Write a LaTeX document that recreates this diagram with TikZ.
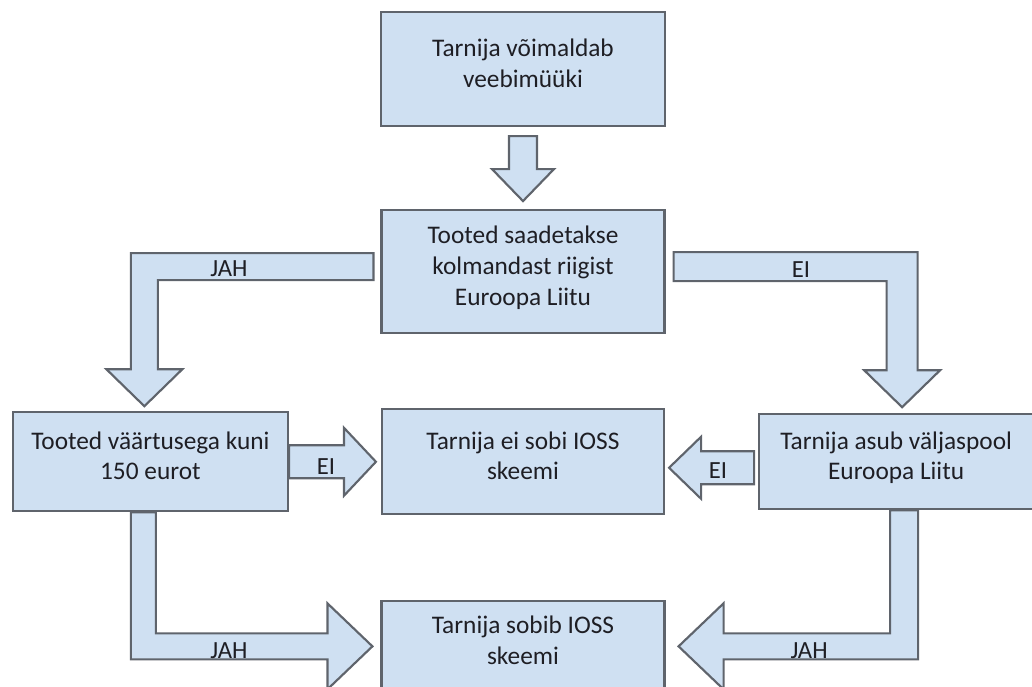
\documentclass[tikz,border=0pt]{standalone}
\usepackage{fontspec}
\setmainfont{Carlito}
\usetikzlibrary{positioning,calc}

\definecolor{boxfill}{RGB}{207,224,242}
\definecolor{boxline}{RGB}{95,100,108}
\definecolor{txt}{RGB}{30,30,36}

\begin{document}
\begin{tikzpicture}[x=0.75pt,y=-0.75pt,
  box/.style={draw=boxline,fill=boxfill,line width=1.6pt,align=center,text=txt,
    font=\fontsize{19pt}{23pt}\selectfont,inner sep=0pt,
    execute at end node={\rule[-9pt]{0pt}{0pt}}},
  barrow/.style={draw=boxline,fill=boxfill,line width=1.6pt},
  lbl/.style={text=txt,font=\fontsize{18.5pt}{22pt}\selectfont,anchor=base,inner sep=0pt}]

  \useasboundingbox (0,0) rectangle (1032,686);
  \clip (0,0) rectangle (1032,686);

  % boxes
  \node[box,minimum width=213pt,minimum height=85.5pt] (web) at (523,69) {Tarnija võimaldab\\veebimüüki};
  \node[box,minimum width=212.25pt,minimum height=92.25pt] (ship) [below=61.5pt of web] {Tooted saadetakse\\kolmandast riigist\\Euroopa Liitu};
  \node[box,minimum width=211.5pt,minimum height=78.75pt] (nofit) [below=55.5pt of ship] {Tarnija ei sobi IOSS\\skeemi};
  \node[box,minimum width=206.25pt,minimum height=74.25pt] (value) [left=69pt of nofit] {Tooted väärtusega kuni\\150 eurot};
  \node[box,minimum width=205.5pt,minimum height=71.25pt] (outside) [right=69.75pt of nofit] {Tarnija asub väljaspool\\Euroopa Liitu};
  \node[box,minimum width=212.25pt,minimum height=67.5pt] (fit) [below=63.75pt of nofit] {Tarnija sobib IOSS\\skeemi};

  % arrow ends
  \coordinate (downS) at ($(web.south)+(0,9)$);
  \coordinate (downT) at ($(ship.north)+(0,-8)$);
  \coordinate (jahAS) at ($(ship.north west)+(-7,44)$);
  \coordinate (jahAT) at ($(value.north)+(-6,-5)$);
  \coordinate (jahAC) at (jahAT |- jahAS);
  \coordinate (eiAS) at ($(ship.north east)+(8,43)$);
  \coordinate (eiAT) at ($(outside.north)+(6,-6)$);
  \coordinate (eiAC) at (eiAT |- eiAS);
  \coordinate (eiBS) at (value.east);
  \coordinate (eiBT) at ($(nofit.west)+(-5,0)$);
  \coordinate (eiCS) at ($(outside.west)+(-4,6)$);
  \coordinate (eiCT) at ($(nofit.east)+(4,6)$);
  \coordinate (jahBS) at ($(value.south)+(-19.5,0)$);
  \coordinate (jahBT) at ($(fit.north west)+(-8,46)$);
  \coordinate (jahBC) at (jahBS |- jahBT);
  \coordinate (jahCS) at ($(outside.south)+(22,0)$);
  \coordinate (jahCT) at ($(fit.north east)+(13,46)$);
  \coordinate (jahCC) at (jahCS |- jahCT);

  % block arrows
  \draw[barrow] ($(downS)+(-14,0)$) -- ($(downS)+(14,0)$) -- ($(downT)+(14,-32)$)
    -- ($(downT)+(31,-32)$) -- (downT) -- ($(downT)+(-31,-32)$) -- ($(downT)+(-14,-32)$) -- cycle;
  \draw[barrow] (jahAS) -- ($(jahAC)+(-13.5,0)$) -- ($(jahAT)+(-13.5,-37)$) -- ($(jahAT)+(-38,-37)$)
    -- (jahAT) -- ($(jahAT)+(38,-37)$) -- ($(jahAT)+(13.5,-37)$) -- ($(jahAC)+(13.5,27)$)
    -- ($(jahAS)+(0,27)$) -- cycle;
  \draw[barrow] (eiAS) -- ($(eiAC)+(15.5,0)$) -- ($(eiAT)+(15.5,-37)$) -- ($(eiAT)+(38,-37)$)
    -- (eiAT) -- ($(eiAT)+(-38,-37)$) -- ($(eiAT)+(-15.5,-37)$) -- ($(eiAC)+(-15.5,29)$)
    -- ($(eiAS)+(0,29)$) -- cycle;
  \draw[barrow] ($(eiBS)+(0,-16.5)$) -- ($(eiBT)+(-32,-16.5)$) -- ($(eiBT)+(-32,-34)$) -- (eiBT)
    -- ($(eiBT)+(-32,34)$) -- ($(eiBT)+(-32,16.5)$) -- ($(eiBS)+(0,16.5)$) -- cycle;
  \draw[barrow] ($(eiCS)+(0,-16.5)$) -- ($(eiCT)+(32,-16.5)$) -- ($(eiCT)+(32,-31)$) -- (eiCT)
    -- ($(eiCT)+(32,31)$) -- ($(eiCT)+(32,16.5)$) -- ($(eiCS)+(0,16.5)$) -- cycle;
  \draw[barrow] (jahBS) -- ($(jahBC)+(0,13)$) -- ($(jahBT)+(-45,13)$) -- ($(jahBT)+(-45,43)$)
    -- (jahBT) -- ($(jahBT)+(-45,-43)$) -- ($(jahBT)+(-45,-13)$) -- ($(jahBC)+(25,-13)$)
    -- ($(jahBS)+(25,0)$) -- cycle;
  \draw[barrow] (jahCS) -- ($(jahCC)+(0,13)$) -- ($(jahCT)+(45,13)$) -- ($(jahCT)+(45,43)$)
    -- (jahCT) -- ($(jahCT)+(45,-43)$) -- ($(jahCT)+(45,-13)$) -- ($(jahCC)+(-28,-13)$)
    -- ($(jahCS)+(-28,0)$) -- cycle;

  % labels
  \node[lbl] (jahA) at ($(jahAS)+(-144.5,23)$) {JAH};
  \node[lbl] (eiA) at ($(eiAS)+(127.5,25)$) {EI};
  \node[lbl] (eiB) at ($(eiBS)+(37,12.5)$) {EI};
  \node[lbl] (eiC) at ($(outside.west)+(-40,16.5)$) {EI};
  \node[lbl] (jahB) at ($(jahBT)+(-143.5,12)$) {JAH};
  \node[lbl] (jahC) at ($(jahCT)+(130.5,12)$) {JAH};

\end{tikzpicture}
\end{document}
